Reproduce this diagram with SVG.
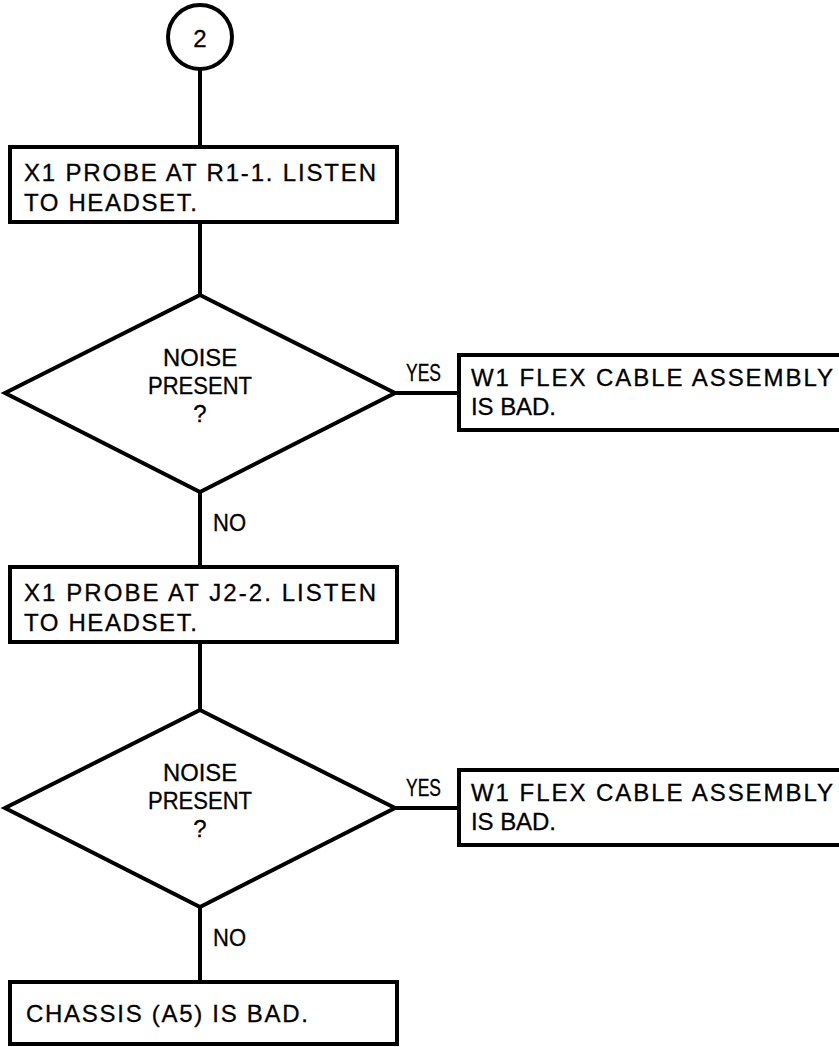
<svg xmlns="http://www.w3.org/2000/svg" width="839" height="1047" viewBox="0 0 839 1047">
  <style>
    .shape { fill: #fff; stroke: #000; stroke-width: 4; }
    .wire { fill: none; stroke: #000; stroke-width: 4; }
    text { font-family: "Liberation Sans", Arial, sans-serif; font-size: 24px; fill: #000; stroke: #000; stroke-width: 0.3; }
    .mid { text-anchor: middle; }
  </style>
  <rect width="839" height="1047" fill="#fff"/>

  <!-- connectors -->
  <g id="connectors">
    <line class="wire" x1="200" y1="70" x2="200" y2="147"/>
    <line class="wire" x1="200" y1="222" x2="200" y2="295"/>
    <line class="wire" x1="395" y1="393" x2="459" y2="393"/>
    <line class="wire" x1="200" y1="492" x2="200" y2="567"/>
    <line class="wire" x1="200" y1="642" x2="200" y2="710"/>
    <line class="wire" x1="395" y1="808" x2="459" y2="808"/>
    <line class="wire" x1="200" y1="907" x2="200" y2="982"/>
    <text x="406" y="381" textLength="35" lengthAdjust="spacingAndGlyphs">YES</text>
    <text x="213" y="531" textLength="33" lengthAdjust="spacingAndGlyphs">NO</text>
    <text x="406" y="796" textLength="35" lengthAdjust="spacingAndGlyphs">YES</text>
    <text x="213" y="946" textLength="33" lengthAdjust="spacingAndGlyphs">NO</text>
  </g>

  <!-- off-page connector 2 -->
  <g id="start">
    <circle class="shape" cx="200" cy="37" r="32"/>
    <text class="mid" x="200" y="47" font-size="28">2</text>
  </g>

  <g id="probe-r1">
    <rect class="shape" x="10" y="147" width="387" height="75"/>
    <text x="24" y="181" textLength="352" lengthAdjust="spacing">X1 PROBE AT R1-1. LISTEN</text>
    <text x="24" y="211" textLength="173" lengthAdjust="spacing">TO HEADSET.</text>
  </g>

  <g id="decision-1">
    <polygon class="shape" points="200,295 395,393 200,492 5,393"/>
    <text class="mid" x="200" y="366" textLength="74" lengthAdjust="spacingAndGlyphs">NOISE</text>
    <text class="mid" x="200" y="394" textLength="104" lengthAdjust="spacingAndGlyphs">PRESENT</text>
    <text class="mid" x="200" y="422">?</text>
  </g>

  <g id="flex-bad-1">
    <rect class="shape" x="459" y="355" width="390" height="75"/>
    <text x="471" y="386" textLength="362" lengthAdjust="spacing">W1 FLEX CABLE ASSEMBLY</text>
    <text x="471" y="415" textLength="85" lengthAdjust="spacing">IS BAD.</text>
  </g>

  <g id="probe-j2">
    <rect class="shape" x="10" y="567" width="387" height="75"/>
    <text x="24" y="601" textLength="352" lengthAdjust="spacing">X1 PROBE AT J2-2. LISTEN</text>
    <text x="24" y="631" textLength="173" lengthAdjust="spacing">TO HEADSET.</text>
  </g>

  <g id="decision-2">
    <polygon class="shape" points="200,710 395,808 200,907 5,808"/>
    <text class="mid" x="200" y="781" textLength="74" lengthAdjust="spacingAndGlyphs">NOISE</text>
    <text class="mid" x="200" y="809" textLength="104" lengthAdjust="spacingAndGlyphs">PRESENT</text>
    <text class="mid" x="200" y="837">?</text>
  </g>

  <g id="flex-bad-2">
    <rect class="shape" x="459" y="770" width="390" height="75"/>
    <text x="471" y="801" textLength="362" lengthAdjust="spacing">W1 FLEX CABLE ASSEMBLY</text>
    <text x="471" y="830" textLength="85" lengthAdjust="spacing">IS BAD.</text>
  </g>

  <g id="chassis-bad">
    <rect class="shape" x="10" y="982" width="387" height="62"/>
    <text x="26" y="1022" textLength="282" lengthAdjust="spacing">CHASSIS (A5) IS BAD.</text>
  </g>
</svg>
